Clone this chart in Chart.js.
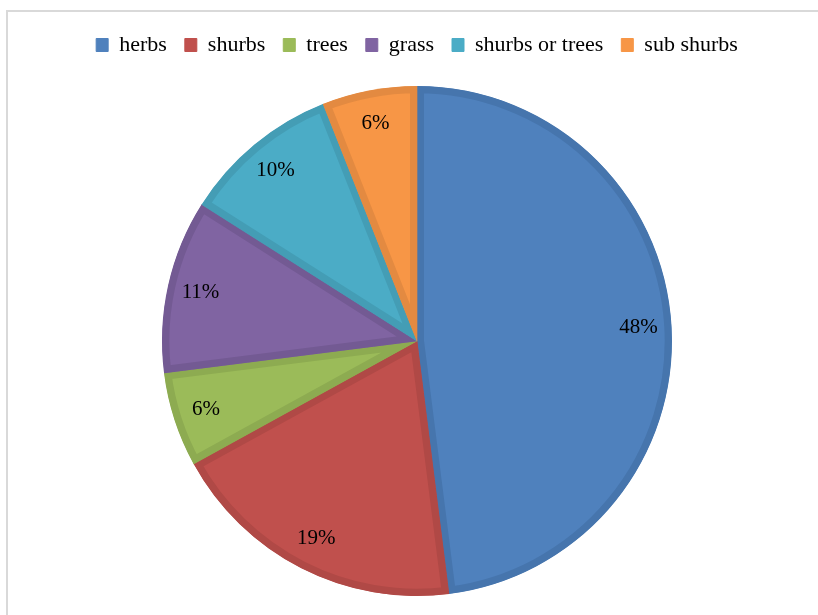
<!DOCTYPE html>
<html>
<head>
<meta charset="utf-8">
<script src="https://cdn.jsdelivr.net/npm/chart.js@4.4.1/dist/chart.umd.min.js"></script>
<style>
  html, body { margin: 0; padding: 0; background: #fff; overflow: hidden; }
  #frame { position: absolute; left: 6px; top: 10px; width: 840px; height: 640px;
           border: 2px solid #d9d9d9; box-sizing: border-box; }
  #wrap { position: absolute; left: 8px; top: 12px; width: 818px; height: 600px; }
</style>
</head>
<body>
<div id="frame"></div>
<div id="wrap"><canvas id="pieChart"></canvas></div>
<script>
// Datos del gráfico
const categories = ['herbs', 'shurbs', 'trees', 'grass', 'shurbs or trees', 'sub shurbs'];
const shares = [48, 19, 6, 11, 10, 6];

// Colores estilo Excel (relleno y borde)
const fillColors = ['#4f81bd', '#c0504d', '#9bbb59', '#8064a2', '#4bacc6', '#f79646'];
const edgeColors = ['#4675ad', '#b04946', '#8dab51', '#735a93', '#449db5', '#e38a41'];

const serif = "'Liberation Serif', 'Times New Roman', serif";

// Espacio extra bajo la leyenda
const legendGap = {
    id: 'legendGap',
    beforeInit(chart) {
        const fit = chart.legend.fit;
        chart.legend.fit = function () {
            fit.call(this);
            this.height += 20;
        };
    }
};

// Etiquetas de porcentaje dentro de cada sector
const pctLabels = {
    id: 'pctLabels',
    afterDatasetsDraw(chart) {
        const ctx = chart.ctx;
        const meta = chart.getDatasetMeta(0);
        const total = shares.reduce((a, b) => a + b, 0);
        ctx.save();
        ctx.font = '21px ' + serif;
        ctx.fillStyle = '#000';
        ctx.textAlign = 'center';
        ctx.textBaseline = 'middle';
        meta.data.forEach((arc, i) => {
            const p = arc.getProps(['x', 'y', 'startAngle', 'endAngle', 'outerRadius'], true);
            const mid = (p.startAngle + p.endAngle) / 2;
            const r = p.outerRadius * 0.87;
            const txt = Math.round(shares[i] / total * 100) + '%';
            ctx.fillText(txt, p.x + Math.cos(mid) * r, p.y + Math.sin(mid) * r);
        });
        ctx.restore();
    }
};

new Chart(document.getElementById('pieChart'), {
    type: 'pie',
    data: {
        labels: categories,
        datasets: [{
            data: shares,
            backgroundColor: fillColors,
            borderColor: edgeColors,
            borderWidth: 7,
            borderAlign: 'inner',
            offset: 0,
            hoverOffset: 0
        }]
    },
    options: {
        responsive: true,
        maintainAspectRatio: false,
        animation: false,
        events: [],
        layout: { padding: { top: 4, bottom: 16 } },
        plugins: {
            tooltip: { enabled: false },
            legend: {
                position: 'top',
                labels: {
                    font: { family: serif, size: 22 },
                    color: '#000',
                    boxWidth: 12,
                    boxHeight: 13,
                    padding: 18,
                    generateLabels(chart) {
                        return categories.map((c, i) => ({
                            text: c,
                            fillStyle: fillColors[i],
                            strokeStyle: fillColors[i],
                            lineWidth: 1,
                            index: i
                        }));
                    }
                }
            }
        }
    },
    plugins: [legendGap, pctLabels]
});
</script>
</body>
</html>
